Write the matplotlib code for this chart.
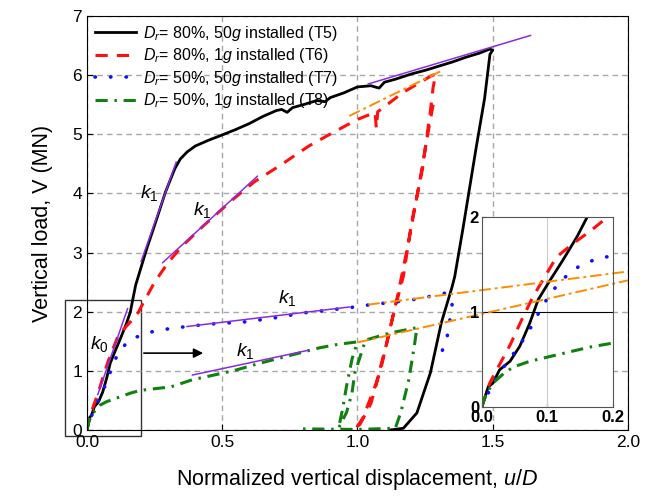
import matplotlib
matplotlib.use('Agg')
import matplotlib.pyplot as plt
from matplotlib.patches import Rectangle

plt.rcParams['font.family'] = ['Liberation Sans', 'DejaVu Sans']
plt.rcParams['mathtext.fontset'] = 'custom'
plt.rcParams['mathtext.rm'] = 'Liberation Sans'
plt.rcParams['mathtext.it'] = 'Liberation Sans:italic'
plt.rcParams['mathtext.bf'] = 'Liberation Sans:bold'

# --- test data (u/D, V in MN) ---
t5_x = [0, 0.0097, 0.017, 0.027, 0.043, 0.058, 0.073, 0.086, 0.101, 0.124, 0.145, 0.16,
        0.18, 0.22, 0.26, 0.29, 0.31, 0.325, 0.345, 0.37, 0.40, 0.45, 0.49, 0.55, 0.60, 0.65,
        0.70, 0.72, 0.74, 0.76, 0.80, 0.85, 0.88, 0.90, 0.95, 1.00, 1.05, 1.08, 1.10,
        1.14, 1.20, 1.25, 1.30, 1.35, 1.40, 1.45, 1.49, 1.50, 1.49, 1.47, 1.44, 1.42,
        1.39, 1.36, 1.35, 1.31, 1.27, 1.22, 1.17, 1.12]
t5_y = [0, 0.21, 0.25, 0.39, 0.48, 0.64, 0.88, 1.13, 1.30, 1.55, 1.79, 1.99,
        2.45, 3.05, 3.6, 4.02, 4.25, 4.42, 4.58, 4.7, 4.8, 4.9, 4.97, 5.08, 5.18, 5.3,
        5.4, 5.42, 5.37, 5.45, 5.5, 5.57, 5.55, 5.62, 5.7, 5.8, 5.82, 5.78, 5.88,
        5.93, 6.02, 6.08, 6.15, 6.22, 6.3, 6.37, 6.44, 6.42, 6.35, 5.6, 4.8, 4.24,
        3.4, 2.6, 2.42, 1.81, 0.97, 0.29, 0.03, 0.0]

t6_x = [0, 0.012, 0.025, 0.043, 0.061, 0.078, 0.096, 0.114, 0.139, 0.165, 0.19, 0.2,
        0.25, 0.30, 0.35, 0.43, 0.54, 0.62, 0.71, 0.82, 0.91, 1.0, 1.065, 1.07, 1.075,
        1.17, 1.27, 1.29, 1.28, 1.27, 1.24, 1.20, 1.17, 1.13, 1.09, 1.05, 1.01, 0.99,
        1.02, 1.07, 1.11, 1.15, 1.19, 1.23, 1.26, 1.28]
t6_y = [0, 0.25, 0.42, 0.65, 0.92, 1.16, 1.37, 1.58, 1.72, 1.85, 1.99, 2.08,
        2.5, 2.83, 3.1, 3.45, 3.9, 4.2, 4.46, 4.8, 5.03, 5.25, 5.37, 5.1, 5.38,
        5.71, 5.98, 6.02, 5.8, 5.4, 4.4, 3.5, 2.6, 1.9, 1.1, 0.45, 0.1, 0.0,
        0.2, 0.8, 1.5, 2.3, 3.2, 4.2, 5.0, 5.5]

t7_x = [0, 0.002, 0.012, 0.026, 0.043, 0.059, 0.075, 0.09, 0.105, 0.124, 0.148, 0.178,
        0.19, 0.24, 0.30, 0.37, 0.45, 0.59, 0.70, 0.80, 0.90, 0.99, 1.05, 1.11, 1.20,
        1.27, 1.33, 1.35, 1.34, 1.33, 1.31]
t7_y = [0, 0.02, 0.18, 0.35, 0.51, 0.66, 0.84, 1.03, 1.2, 1.35, 1.48, 1.57,
        1.58, 1.66, 1.71, 1.75, 1.79, 1.83, 1.9, 1.98, 2.03, 2.08, 2.12, 2.15, 2.2,
        2.26, 2.32, 2.12, 1.8, 1.53, 1.3]

t8_x = [0, 0.007, 0.017, 0.033, 0.048, 0.073, 0.134, 0.165, 0.198, 0.31, 0.39, 0.54,
        0.64, 0.75, 0.86, 0.93, 1.0, 0.98, 0.96, 0.945, 0.93, 0.96, 0.98, 0.99, 1.01,
        1.03, 1.12, 1.22, 1.21, 1.19, 1.16, 1.14, 1.0, 0.79]
t8_y = [0, 0.14, 0.25, 0.35, 0.42, 0.48, 0.58, 0.63, 0.67, 0.73, 0.85, 1.0,
        1.13, 1.26, 1.39, 1.45, 1.49, 1.2, 0.75, 0.35, 0.03, 0.3, 0.63, 0.96, 1.24,
        1.52, 1.64, 1.73, 1.41, 0.85, 0.29, 0.03, 0.01, 0.02]

labels = [r'$D_r$= 80%, 50$g$ installed (T5)',
          r'$D_r$= 80%, 1$g$ installed (T6)',
          r'$D_r$= 50%, 50$g$ installed (T7)',
          r'$D_r$= 50%, 1$g$ installed (T8)']

# stiffness fit lines (purple) and unload-reload lines (orange)
k_lines_x = [[0.04, 0.15], [0.20, 0.33], [0.28, 0.63], [0.37, 0.97], [0.39, 0.82], [1.04, 1.64]]
k_lines_y = [[0.60, 2.05], [2.85, 4.53], [2.83, 4.29], [1.75, 2.08], [0.93, 1.35], [5.85, 6.67]]
ur_lines_x = [[0.97, 1.31], [1.04, 2.0], [1.0, 2.0]]
ur_lines_y = [[5.31, 6.07], [2.12, 2.68], [1.48, 2.53]]

k_text = [r'$k_0$', r'$k_1$', r'$k_1$', r'$k_1$', r'$k_1$']
k_text_x = [0.045, 0.23, 0.425, 0.74, 0.585]
k_text_y = [1.45, 4.0, 3.72, 2.24, 1.33]

styles = [dict(color='black', ls='-', lw=2.0),
          dict(color='#ff1010', ls=(0, (4, 3)), lw=2.2),
          dict(color='#1010ff', ls=(0, (0.1, 4.2)), lw=2.6, dash_capstyle='round'),
          dict(color='#108010', ls=(0, (4, 2.2, 0.8, 2.2)), lw=2.2)]
series = [(t5_x, t5_y), (t6_x, t6_y), (t7_x, t7_y), (t8_x, t8_y)]
purple = '#8a2be2'
orange = '#ff8c00'


def draw_curves(axis, with_labels):
    for (x, y), st, lab in zip(series, styles, labels):
        axis.plot(x, y, label=lab if with_labels else None, **st)


fig = plt.figure(figsize=(6.52, 4.98), dpi=100)
ax = fig.add_axes([0.1334, 0.1365, 0.8296, 0.8315])

ax.grid(True, ls=(0, (4, 3)), color='#a8a8a8', lw=1.0)
draw_curves(ax, True)
for x, y in zip(k_lines_x, k_lines_y):
    ax.plot(x, y, color=purple, lw=1.1)
for x, y in zip(ur_lines_x, ur_lines_y):
    ax.plot(x, y, color=orange, lw=1.4, ls=(0, (6, 2, 1.5, 2)))
for t, x, y in zip(k_text, k_text_x, k_text_y):
    ax.text(x, y, t, fontsize=14, ha='center', va='center')

ax.add_patch(Rectangle((-0.08, -0.1), 0.28, 2.3, fill=False, ec='#333333', lw=1.0, clip_on=False))
ax.annotate('', xy=(0.44, 1.3), xytext=(0.2, 1.3),
            arrowprops=dict(arrowstyle='-|>', color='black', lw=1.2, mutation_scale=14))

ax.set_xlim(0, 2.0)
ax.set_ylim(0, 7)
ax.set_xticks([0, 0.5, 1.0, 1.5, 2.0])
ax.set_yticks(range(8))
ax.tick_params(direction='in', labelsize=12.5, length=4)
ax.set_xlabel('Normalized vertical displacement, $u$/$D$', fontsize=15.5, labelpad=12)
ax.set_ylabel('Vertical load, V (MN)', fontsize=15.5, labelpad=14)
ax.legend(loc='upper left', frameon=False, fontsize=11.5, handlelength=2.6,
          borderaxespad=0.1, labelspacing=0.22, handletextpad=0.4)

# zoomed inset of the initial stiffness
axin = fig.add_axes([0.739, 0.183, 0.201, 0.381])
axin.axvline(0.1, color='#cccccc', lw=0.8)
axin.axhline(1.0, color='black', lw=0.8)
draw_curves(axin, False)
for x, y in zip(ur_lines_x, ur_lines_y):
    axin.plot(x, y, color=orange, lw=1.4, ls=(0, (6, 2, 1.5, 2)), transform=ax.transData)
axin.set_xlim(0, 0.2)
axin.set_ylim(0, 2)
axin.set_xticks([0, 0.1, 0.2])
axin.set_xticklabels(['0.0', '0.1', '0.2'])
axin.set_yticks([0, 1, 2])
axin.tick_params(direction='in', labelsize=12, length=3, pad=2)
for lab in axin.get_xticklabels() + axin.get_yticklabels():
    lab.set_fontweight('bold')
for sp in axin.spines.values():
    sp.set_color('#555555')
    sp.set_linewidth(0.8)

fig.savefig('out.png', dpi=100)
